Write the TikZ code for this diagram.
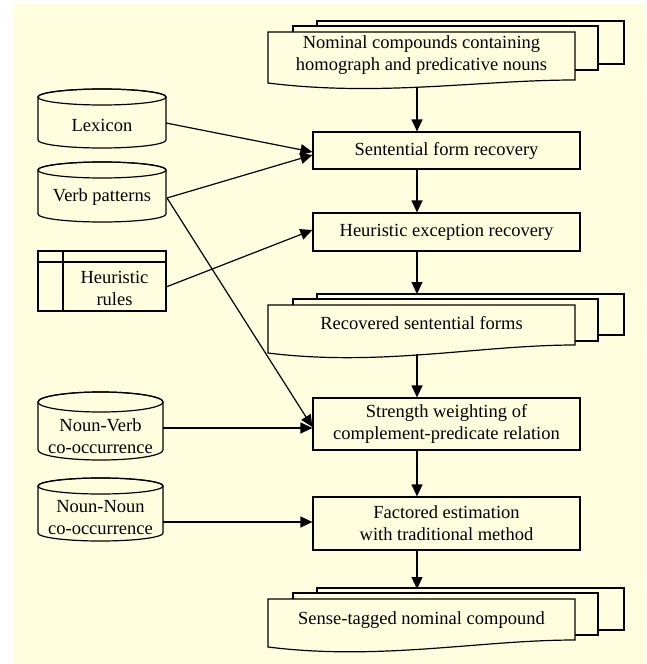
\documentclass[tikz,border=0pt]{standalone}
\usepackage{fontspec}
\setmainfont{Liberation Serif}
\usetikzlibrary{arrows.meta,calc}
\definecolor{bg}{HTML}{FFFFE0}
% document stack: #1 top of front sheet, #2 bottom of sheet 3, #3 bottom of sheet 2, #4 left bottom, #5 right bottom
\newcommand\docstack[5]{%
  \filldraw[sheet] (317,#1-11) rectangle (624,#2);
  \filldraw[sheet] (293,#1-6) rectangle (598,#3);
  \filldraw[sheet] (268,#1) -- (575,#1) -- (575,#5)
     .. controls (480,#5) and (380,#4+14) .. (268,#4) -- cycle;}
% cylinder: #1 x0, #2 x1, #3 y top centre, #4 y bottom centre, #5 ry
\newcommand\dbcyl[5]{%
  \pgfmathsetmacro\rxx{(#2-#1)/2}%
  \filldraw[sheet] (#1,#3) -- (#1,#4) arc[start angle=180,end angle=0,x radius=\rxx,y radius=#5]
     -- (#2,#3) arc[start angle=0,end angle=-180,x radius=\rxx,y radius=#5] -- cycle;
  \draw ({(#1+#2)/2},#3) ellipse[x radius=\rxx,y radius=#5];}
\begin{document}
\begin{tikzpicture}[x=1pt,y=-1pt,line width=1.2pt,
  txt/.style={font=\fontsize{18.5}{22}\selectfont,align=center,inner sep=0pt},
  box/.style={draw,fill=bg,minimum width=267pt,inner sep=0pt,
     font=\fontsize{18.5}{22}\selectfont,align=center},
  sheet/.style={draw=black,fill=bg,line join=miter},
  arr/.style={-{Triangle[length=12pt,width=11pt]}}]
\useasboundingbox (0,0) rectangle (646,664);
\fill[white] (0,0) rectangle (646,664);
\fill[bg] (13,4) rectangle (646,664);

% ---- document stacks
\docstack{32}{64}{70}{83}{80}
\node[txt] (d1) at (421.5,55.5) {Nominal compounds containing\\homograph and predicative nouns};
\coordinate (d1b) at (417,87);

\docstack{305}{335}{341}{353}{345}
\node[txt] (d2) at (421.5,323) {Recovered sentential forms};
\coordinate (d2t) at (417,294);
\coordinate (d2b) at (417,354);

\docstack{599}{630}{635}{647}{640}
\node[txt] (d3) at (421.5,620) {Sense-tagged nominal compound};
\coordinate (d3t) at (417,589);

% ---- process boxes
\node[box,minimum height=37pt] (b1) at (446.5,150.5) {Sentential form recovery};
\node[box,minimum height=38pt] (b2) at (446.5,232) {Heuristic exception recovery};
\node[box,minimum height=52pt] (b3) at (446.5,424) {Strength weighting of\\complement-predicate relation};
\node[box,minimum height=53pt] (b4) at (446.5,523.5) {Factored estimation\\with traditional method};

% ---- left stores
\dbcyl{38}{166}{97}{140}{8}
\node[txt] (lex) at (102,125) {Lexicon};
\coordinate (lexe) at (166,123);

\dbcyl{38}{166}{170}{214}{8}
\node[txt] (verb) at (102,197) {Verb patterns};
\coordinate (verbe) at (167,198);

\filldraw[sheet] (38,251) rectangle (166,311);
\draw (38,262) -- (166,262);
\draw (63,251) -- (63,311);
\node[txt] (hr) at (114.5,288) {Heuristic\\rules};
\coordinate (hre) at (166,287);

\dbcyl{38}{163}{402}{450}{10}
\node[txt] (nv) at (100.5,436) {Noun-Verb\\co-occurrence};
\coordinate (nve) at (163,428);

\dbcyl{38}{163}{486}{533}{8}
\node[txt] (nn) at (100.5,518) {Noun-Noun\\co-occurrence};
\coordinate (nne) at (163,522);

% ---- main flow
\draw[arr] (d1b) -- (d1b |- b1.north);
\draw[arr] (b1.south -| d1b) -- (b2.north -| d1b);
\draw[arr] (b2.south -| d1b) -- (d2t);
\draw[arr] (d2b) -- (b3.north -| d1b);
\draw[arr] (b3.south -| d1b) -- (b4.north -| d1b);
\draw[arr] (b4.south -| d1b) -- (d3t);

% ---- side inputs
\draw[arr] (lexe) -- ($(b1.west)+(0,1.5)$);
\draw[arr] (verbe) -- ($(b1.west)+(0,4.5)$);
\draw[arr] (hre) -- ($(b2.west)+(0,-2)$);
\draw[arr] (verbe) -- ($(b3.west)+(0,3)$);
\draw[arr] (nve) -- (nve -| b3.west);
\draw[arr] (nne) -- (nne -| b4.west);
\end{tikzpicture}
\end{document}
